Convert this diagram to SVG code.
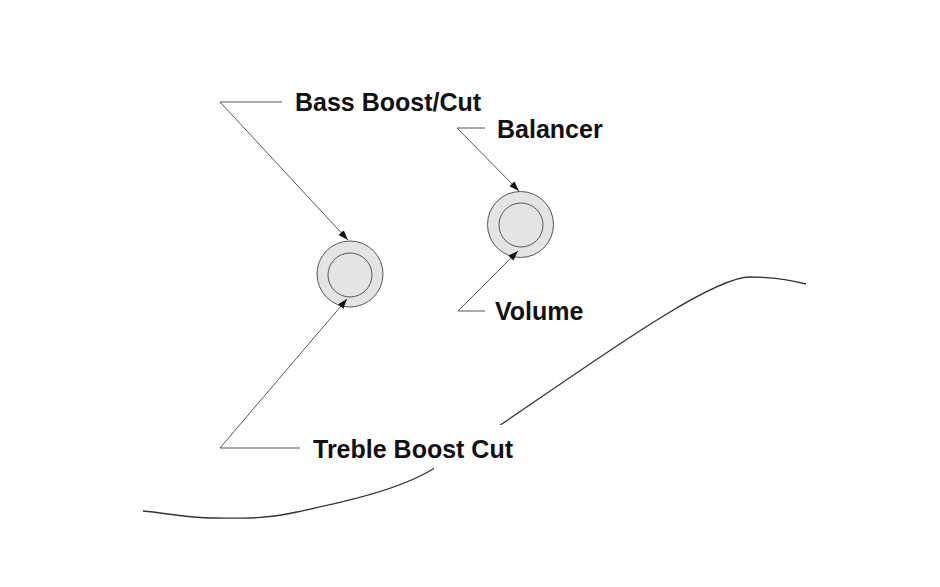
<svg xmlns="http://www.w3.org/2000/svg" width="940" height="587" viewBox="0 0 940 587">
<style>
.lbl{font-family:"Liberation Sans",Arial,sans-serif;font-weight:bold;font-size:25px;fill:#111}
.con{fill:none;stroke:#555;stroke-width:1}
.knob{fill:#e4e4e4;stroke:#555;stroke-width:1}
.inner{fill:none;stroke:#555;stroke-width:1}
.body{fill:none;stroke:#333;stroke-width:1.3}
</style>
<defs>
<marker id="arr" markerUnits="userSpaceOnUse" markerWidth="11" markerHeight="8" refX="10" refY="3.5" orient="auto">
<path d="M0,0 L10,3.5 L0,7 z" fill="#111"/>
</marker>
<mask id="gap" maskUnits="userSpaceOnUse" x="0" y="0" width="940" height="587">
<rect x="0" y="0" width="940" height="587" fill="#fff"/>
<rect x="434" y="425" width="69" height="48" fill="#000"/>
</mask>
</defs>
<rect width="940" height="587" fill="#fff"/>
<g id="body-outline">
<path class="body" mask="url(#gap)" d="M143,511 C166,513 187,518 213,518 C239,518 260,520 297,512 C334,504 395,492 433,469 C530,410 700,277 750,277 C775,277 795,281 806,284"/>
</g>
<g id="knob-bass-treble">
<circle class="knob" cx="350" cy="274" r="33"/>
<circle class="inner" cx="350" cy="275" r="22"/>
</g>
<g id="knob-balancer-volume">
<circle class="knob" cx="520.5" cy="224.5" r="33"/>
<circle class="inner" cx="521" cy="225" r="22"/>
</g>
<g id="connectors">
<path class="con" d="M282,102 L220,102 L348,240" marker-end="url(#arr)"/>
<path class="con" d="M300,448 L220,448 L347,299" marker-end="url(#arr)"/>
<path class="con" d="M485,128 L457,128 L519,191" marker-end="url(#arr)"/>
<path class="con" d="M485,311 L458,311 L518,251" marker-end="url(#arr)"/>
</g>
<g id="label-bass"><text class="lbl" x="295" y="111">Bass Boost/Cut</text></g>
<g id="label-balancer"><text class="lbl" x="497" y="138">Balancer</text></g>
<g id="label-volume"><text class="lbl" x="495" y="320">Volume</text></g>
<g id="label-treble"><text class="lbl" x="313" y="458">Treble Boost Cut</text></g>
</svg>
